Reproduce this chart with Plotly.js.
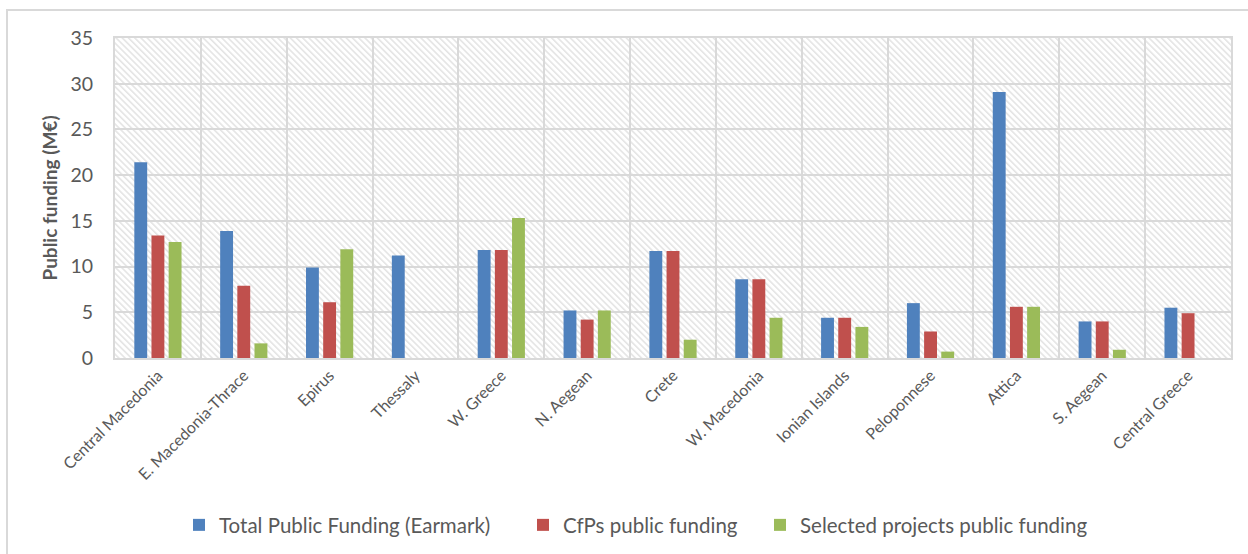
<!DOCTYPE html>
<html>
<head>
<meta charset="utf-8">
<script src="https://cdn.plot.ly/plotly-3.0.1.min.js"></script>
<style>
  html, body { margin: 0; padding: 0; background: #fff; }
  #chart { width: 1248px; height: 554px; }
  #frame { position: absolute; left: 6px; top: 9px; width: 1300px; height: 600px;
           border: 2px solid #d9d9d9; pointer-events: none; box-sizing: border-box; }
</style>
</head>
<body>
<div id="chart"></div>
<div id="frame"></div>
<script>
const regions = ["Central Macedonia", "E. Macedonia-Thrace", "Epirus", "Thessaly", "W. Greece",
  "N. Aegean", "Crete", "W. Macedonia", "Ionian Islands", "Peloponnese", "Attica", "S. Aegean", "Central Greece"];
const totalEarmark = [21.4, 13.9, 9.9, 11.2, 11.8, 5.2, 11.7, 8.6, 4.4, 6.0, 29.1, 4.0, 5.5];
const cfpsFunding = [13.4, 7.9, 6.1, null, 11.8, 4.2, 11.7, 8.6, 4.4, 2.9, 5.6, 4.0, 4.9];
const selectedFunding = [12.7, 1.6, 11.9, null, 15.3, 5.2, 2.0, 4.4, 3.4, 0.7, 5.6, 0.9, null];
const seriesNames = ["Total Public Funding (Earmark)", "CfPs public funding", "Selected projects public funding"];
const yTicks = [0, 5, 10, 15, 20, 25, 30, 35];

const colors = ["#4f81bd", "#c0504d", "#9bbb59"];
const FONT = "Lato, Carlito, 'Open Sans', sans-serif";
const textColor = "#595959";

const hatch = 'data:image/svg+xml;utf8,' + encodeURIComponent(
  '<svg xmlns="http://www.w3.org/2000/svg" width="1116" height="320" viewBox="0 0 1116 320">' +
  '<defs><pattern id="p" patternUnits="userSpaceOnUse" width="4.4" height="4.4" patternTransform="rotate(-45)">' +
  '<rect x="0" y="0" width="1.6" height="4.4" fill="#e4e4e4"/></pattern></defs>' +
  '<rect width="1116" height="320" fill="#ffffff"/>' +
  '<rect width="1116" height="320" fill="url(#p)"/></svg>');

const legendIds = ["legend", "legend2", "legend3"];
const allSeries = [totalEarmark, cfpsFunding, selectedFunding];
const data = allSeries.map((vals, i) => ({
  type: "bar",
  x: regions,
  y: vals,
  name: seriesNames[i],
  legend: legendIds[i],
  marker: { color: colors[i] },
  hoverinfo: "x+y+name"
}));

const legendFont = { family: FONT, size: 20.5, color: textColor };
function legendAt(px) {
  return { orientation: "h", x: px, xanchor: "left", y: -0.522, yanchor: "middle",
           font: legendFont, bgcolor: "rgba(0,0,0,0)", itemclick: false, itemdoubleclick: false };
}

const layout = {
  width: 1248, height: 554,
  margin: { l: 115, r: 17, t: 38, b: 196, autoexpand: false },
  paper_bgcolor: "#ffffff",
  plot_bgcolor: "rgba(0,0,0,0)",
  barmode: "group",
  bargap: 0.4,
  bargroupgap: 0.25,
  font: { family: FONT, color: textColor },
  images: [{
    source: hatch, xref: "paper", yref: "paper", x: 0, y: 1, sizex: 1, sizey: 1,
    xanchor: "left", yanchor: "top", sizing: "stretch", layer: "below"
  }],
  xaxis: {
    type: "category",
    tickson: "boundaries",
    automargin: false,
    showgrid: true, gridcolor: "#d9d9d9", gridwidth: 2,
    showline: true, linecolor: "#d9d9d9", linewidth: 2, mirror: true,
    ticks: "", tickangle: -45,
    tickfont: { family: FONT, size: 16, color: textColor }
  },
  yaxis: {
    range: [0, 35],
    tickvals: yTicks,
    automargin: false,
    showgrid: true, gridcolor: "#d9d9d9", gridwidth: 2,
    zeroline: false,
    showline: true, linecolor: "#d9d9d9", linewidth: 2, mirror: true,
    ticks: "",
    ticklabelstandoff: 16,
    tickfont: { family: FONT, size: 19.5, color: textColor },
    title: { text: "Public funding (M€)", font: { family: FONT, size: 19, color: textColor, weight: "bold" }, standoff: 8 }
  },
  legend: legendAt((179 - 115) / 1116),
  legend2: legendAt((523 - 115) / 1116),
  legend3: legendAt((760 - 115) / 1116),
  showlegend: true
};

Plotly.newPlot("chart", data, layout, { displayModeBar: false, staticPlot: true });
</script>
</body>
</html>
